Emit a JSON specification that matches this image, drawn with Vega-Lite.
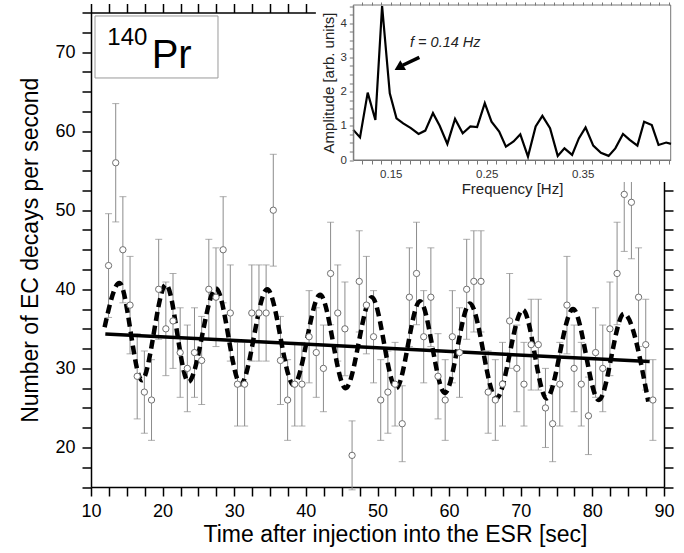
{
  "$schema": "https://vega.github.io/schema/vega-lite/v6.json",
  "width": 573,
  "height": 474.5,
  "autosize": "none",
  "padding": {"left": 91, "top": 12.5, "right": 20, "bottom": 66},
  "background": "white",
  "config": {"view": {"stroke": null}, "font": "Liberation Sans", "axis": {"grid": false}},
  "datasets": {
    "counts": [
      {"t": 12.45, "n": 43, "err": 6.56}, {"t": 13.45, "n": 56, "err": 7.48}, {"t": 14.45, "n": 45, "err": 6.71},
      {"t": 15.45, "n": 38, "err": 6.16}, {"t": 16.45, "n": 29, "err": 5.39}, {"t": 17.45, "n": 27, "err": 5.2},
      {"t": 18.45, "n": 26, "err": 5.1}, {"t": 19.45, "n": 40, "err": 6.32}, {"t": 20.45, "n": 35, "err": 5.92},
      {"t": 21.45, "n": 36, "err": 6.0}, {"t": 22.45, "n": 32, "err": 5.66}, {"t": 23.45, "n": 30, "err": 5.48},
      {"t": 24.45, "n": 32, "err": 5.66}, {"t": 25.45, "n": 31, "err": 5.57}, {"t": 26.45, "n": 40, "err": 6.32},
      {"t": 27.45, "n": 39, "err": 6.24}, {"t": 28.45, "n": 45, "err": 6.71}, {"t": 29.45, "n": 37, "err": 6.08},
      {"t": 30.45, "n": 28, "err": 5.29}, {"t": 31.45, "n": 28, "err": 5.29}, {"t": 32.45, "n": 37, "err": 6.08},
      {"t": 33.45, "n": 37, "err": 6.08}, {"t": 34.45, "n": 37, "err": 6.08}, {"t": 35.45, "n": 50, "err": 7.07},
      {"t": 36.45, "n": 31, "err": 5.57}, {"t": 37.45, "n": 26, "err": 5.1}, {"t": 38.45, "n": 28, "err": 5.29},
      {"t": 39.45, "n": 28, "err": 5.29}, {"t": 40.45, "n": 34, "err": 5.83}, {"t": 41.45, "n": 32, "err": 5.66},
      {"t": 42.45, "n": 30, "err": 5.48}, {"t": 43.45, "n": 42, "err": 6.48}, {"t": 44.45, "n": 37, "err": 6.08},
      {"t": 45.45, "n": 35, "err": 5.92}, {"t": 46.45, "n": 19, "err": 4.36}, {"t": 47.45, "n": 41, "err": 6.4},
      {"t": 48.45, "n": 38, "err": 6.16}, {"t": 49.45, "n": 34, "err": 5.83}, {"t": 50.45, "n": 26, "err": 5.1},
      {"t": 51.45, "n": 27, "err": 5.2}, {"t": 52.45, "n": 28, "err": 5.29}, {"t": 53.45, "n": 23, "err": 4.8},
      {"t": 54.45, "n": 39, "err": 6.24}, {"t": 55.45, "n": 42, "err": 6.48}, {"t": 56.45, "n": 34, "err": 5.83},
      {"t": 57.45, "n": 39, "err": 6.24}, {"t": 58.45, "n": 29, "err": 5.39}, {"t": 59.45, "n": 26, "err": 5.1},
      {"t": 60.45, "n": 34, "err": 5.83}, {"t": 61.45, "n": 32, "err": 5.66}, {"t": 62.45, "n": 40, "err": 6.32},
      {"t": 63.45, "n": 41, "err": 6.4}, {"t": 64.45, "n": 41, "err": 6.4}, {"t": 65.45, "n": 27, "err": 5.2},
      {"t": 66.45, "n": 26, "err": 5.1}, {"t": 67.45, "n": 28, "err": 5.29}, {"t": 68.45, "n": 36, "err": 6.0},
      {"t": 69.45, "n": 30, "err": 5.48}, {"t": 70.45, "n": 28, "err": 5.29}, {"t": 71.45, "n": 33, "err": 5.74},
      {"t": 72.45, "n": 33, "err": 5.74}, {"t": 73.45, "n": 25, "err": 5.0}, {"t": 74.45, "n": 23, "err": 4.8},
      {"t": 75.45, "n": 28, "err": 5.29}, {"t": 76.45, "n": 38, "err": 6.16}, {"t": 77.45, "n": 30, "err": 5.48},
      {"t": 78.45, "n": 28, "err": 5.29}, {"t": 79.45, "n": 24, "err": 4.9}, {"t": 80.45, "n": 32, "err": 5.66},
      {"t": 81.45, "n": 30, "err": 5.48}, {"t": 82.45, "n": 35, "err": 5.92}, {"t": 83.45, "n": 42, "err": 6.48},
      {"t": 84.45, "n": 52, "err": 7.21}, {"t": 85.45, "n": 51, "err": 7.14}, {"t": 86.45, "n": 39, "err": 6.24},
      {"t": 87.45, "n": 33, "err": 5.74}, {"t": 88.45, "n": 26, "err": 5.1}
    ],
    "fit": [{"t": 12, "v": 34.35}, {"t": 88, "v": 30.86}],
    "osc": [
      {"t": 11.9, "v": 35.2}, {"t": 13.96, "v": 40.8}, {"t": 17.1, "v": 28.5}, {"t": 20.47, "v": 40.6},
      {"t": 23.6, "v": 28.3}, {"t": 27.46, "v": 40.1}, {"t": 30.9, "v": 28.0}, {"t": 34.6, "v": 40.0},
      {"t": 38.3, "v": 27.9}, {"t": 41.99, "v": 39.3}, {"t": 45.55, "v": 27.5}, {"t": 49.2, "v": 39.0},
      {"t": 52.6, "v": 27.5}, {"t": 55.93, "v": 38.5}, {"t": 59.4, "v": 26.9}, {"t": 62.9, "v": 38.2},
      {"t": 66.6, "v": 26.2}, {"t": 70.3, "v": 37.4}, {"t": 73.6, "v": 26.2}, {"t": 77.3, "v": 37.5},
      {"t": 80.9, "v": 26.0}, {"t": 84.4, "v": 36.9}, {"t": 87.8, "v": 25.8}
    ],
    "spectrum": [
      {"f": 0.111, "a": 0.88}, {"f": 0.118, "a": 0.66}, {"f": 0.126, "a": 1.97}, {"f": 0.134, "a": 1.17},
      {"f": 0.141, "a": 4.5}, {"f": 0.149, "a": 1.95}, {"f": 0.156, "a": 1.22}, {"f": 0.163, "a": 1.07},
      {"f": 0.171, "a": 0.93}, {"f": 0.179, "a": 0.76}, {"f": 0.186, "a": 0.86}, {"f": 0.194, "a": 1.37},
      {"f": 0.201, "a": 1.0}, {"f": 0.209, "a": 0.47}, {"f": 0.217, "a": 1.2}, {"f": 0.225, "a": 0.78},
      {"f": 0.233, "a": 0.98}, {"f": 0.24, "a": 0.96}, {"f": 0.248, "a": 1.66}, {"f": 0.255, "a": 1.12},
      {"f": 0.263, "a": 0.83}, {"f": 0.27, "a": 0.39}, {"f": 0.278, "a": 0.54}, {"f": 0.285, "a": 0.75},
      {"f": 0.293, "a": 0.1}, {"f": 0.301, "a": 0.98}, {"f": 0.308, "a": 1.29}, {"f": 0.316, "a": 0.93},
      {"f": 0.324, "a": 0.12}, {"f": 0.331, "a": 0.34}, {"f": 0.339, "a": 0.15}, {"f": 0.346, "a": 0.63},
      {"f": 0.353, "a": 0.95}, {"f": 0.361, "a": 0.42}, {"f": 0.369, "a": 0.21}, {"f": 0.377, "a": 0.12},
      {"f": 0.384, "a": 0.34}, {"f": 0.392, "a": 0.76}, {"f": 0.399, "a": 0.59}, {"f": 0.407, "a": 0.42},
      {"f": 0.414, "a": 1.12}, {"f": 0.422, "a": 1.02}, {"f": 0.429, "a": 0.44}, {"f": 0.437, "a": 0.51},
      {"f": 0.442, "a": 0.47}
    ]
  },
  "resolve": {"scale": {"x": "independent", "y": "independent"}, "axis": {"x": "independent", "y": "independent"}},
  "layer": [
    {
      "resolve": {"axis": {"x": "independent", "y": "independent"}},
      "layer": [
        {
          "data": {"name": "counts"},
          "mark": {"type": "errorbar", "ticks": {"size": 7}, "color": "#8c8c8c", "thickness": 1},
          "encoding": {
            "x": {
              "field": "t", "type": "quantitative",
              "scale": {"domain": [10, 90], "nice": false, "zero": false},
              "axis": {
                "orient": "bottom",
                "values": [10,12.5,15,17.5,20,22.5,25,27.5,30,32.5,35,37.5,40,42.5,45,47.5,50,52.5,55,57.5,60,62.5,65,67.5,70,72.5,75,77.5,80,82.5,85,87.5,90],
                "labelExpr": "datum.value % 10 === 0 ? format(datum.value, 'd') : ''",
                "tickSize": 9,
                "encode": {"ticks": {"update": {"y2": {"signal": "datum.value % 10 === 0 ? 9 : 5"}}}},
                "tickWidth": 1.5, "tickColor": "black", "domainColor": "black", "domainWidth": 1.5,
                "labelFontSize": 18, "labelColor": "black", "labelPadding": 6,
                "labelOverlap": false, "labelFlush": false,
                "title": "Time after injection into the ESR [sec]", "titleFontSize": 23,
                "titleFontWeight": "normal", "titleColor": "black", "titlePadding": 3,
                "titleX": 304, "titleAlign": "center"
              }
            },
            "y": {
              "field": "n", "type": "quantitative",
              "scale": {"domain": [15, 75], "nice": false, "zero": false},
              "axis": {
                "orient": "left",
                "values": [15,17.5,20,22.5,25,27.5,30,32.5,35,37.5,40,42.5,45,47.5,50,52.5,55,57.5,60,62.5,65,67.5,70,72.5,75],
                "labelExpr": "datum.value % 10 === 0 ? format(datum.value, 'd') : ''",
                "tickSize": 9,
                "encode": {"ticks": {"update": {"x2": {"signal": "datum.value % 10 === 0 ? -9 : -5"}}}},
                "tickWidth": 1.5, "tickColor": "black", "domainColor": "black", "domainWidth": 1.5,
                "labelFontSize": 18, "labelColor": "black", "labelPadding": 7,
                "labelOverlap": false, "labelFlush": false,
                "title": "Number of EC decays per second", "titleFontSize": 23,
                "titleFontWeight": "normal", "titleColor": "black", "titlePadding": 12
              }
            },
            "yError": {"field": "err"}
          }
        },
        {
          "data": {"name": "fit"},
          "mark": {"type": "line", "color": "black", "strokeWidth": 3.5},
          "encoding": {
            "x": {
              "field": "t", "type": "quantitative",
              "axis": {
                "orient": "top",
                "values": [10,12.5,15,17.5,20,22.5,25,27.5,30,32.5,35,37.5,40,42.5,45,47.5,50,52.5,55,57.5,60,62.5,65,67.5,70,72.5,75,77.5,80,82.5,85,87.5,90],
                "labels": false, "title": null, "tickSize": 9,
                "encode": {"ticks": {"update": {"y2": {"signal": "datum.value % 10 === 0 ? 9 : 5"}}}},
                "tickWidth": 1.5, "tickColor": "black", "domainColor": "black", "domainWidth": 1.5
              }
            },
            "y": {
              "field": "v", "type": "quantitative",
              "axis": {
                "orient": "right",
                "values": [15,17.5,20,22.5,25,27.5,30,32.5,35,37.5,40,42.5,45,47.5,50,52.5,55,57.5,60,62.5,65,67.5,70,72.5,75],
                "labels": false, "title": null, "tickSize": 9,
                "encode": {"ticks": {"update": {"x2": {"signal": "datum.value % 10 === 0 ? -9 : -5"}}}},
                "tickWidth": 1.5, "tickColor": "black", "domainColor": "black", "domainWidth": 1.5
              }
            }
          }
        },
        {
          "data": {"name": "osc"},
          "mark": {"type": "line", "color": "black", "strokeWidth": 4.5, "strokeDash": [9, 5], "interpolate": "monotone"},
          "encoding": {
            "x": {"field": "t", "type": "quantitative", "axis": null},
            "y": {"field": "v", "type": "quantitative", "axis": null}
          }
        },
        {
          "data": {"name": "counts"},
          "mark": {"type": "point", "shape": "circle", "filled": true, "fill": "white", "stroke": "#6f6f6f", "strokeWidth": 1, "size": 40, "opacity": 1},
          "encoding": {
            "x": {"field": "t", "type": "quantitative", "axis": null},
            "y": {"field": "n", "type": "quantitative", "axis": null}
          }
        },
        {
          "data": {"values": [{"x": 10.56, "x2": 27.73, "y": 74.56, "y2": 66.72}]},
          "mark": {"type": "rect", "fill": "white", "stroke": "#9a9a9a", "strokeWidth": 1},
          "encoding": {
            "x": {"field": "x", "type": "quantitative", "axis": null},
            "x2": {"field": "x2"},
            "y": {"field": "y", "type": "quantitative", "axis": null},
            "y2": {"field": "y2"}
          }
        },
        {
          "data": {"values": [{"x": 12.28, "y": 70.89, "s": "140"}]},
          "mark": {"type": "text", "align": "left", "baseline": "alphabetic", "fontSize": 24, "color": "black", "font": "Liberation Sans"},
          "encoding": {
            "x": {"field": "x", "type": "quantitative", "axis": null},
            "y": {"field": "y", "type": "quantitative", "axis": null},
            "text": {"field": "s"}
          }
        },
        {
          "data": {"values": [{"x": 18.47, "y": 67.95, "s": "Pr"}]},
          "mark": {"type": "text", "align": "left", "baseline": "alphabetic", "fontSize": 40, "color": "black", "font": "Liberation Sans"},
          "encoding": {
            "x": {"field": "x", "type": "quantitative", "axis": null},
            "y": {"field": "y", "type": "quantitative", "axis": null},
            "text": {"field": "s"}
          }
        }
      ]
    },
    {
      "resolve": {"axis": {"x": "independent", "y": "independent"}},
      "layer": [
        {
          "data": {"values": [{"x": 0.072, "x2": 0.4555, "y": -0.643, "y2": 4.676}]},
          "mark": {"type": "rect", "fill": "white", "stroke": null},
          "encoding": {
            "x": {"field": "x", "type": "quantitative", "axis": null,
              "scale": {"domain": [0.111, 0.4417], "range": [262.3, 579.7], "nice": false, "zero": false}},
            "x2": {"field": "x2"},
            "y": {"field": "y", "type": "quantitative", "axis": null,
              "scale": {"domain": [0, 4.53], "range": [147.5, -7.5], "nice": false, "zero": false}},
            "y2": {"field": "y2"}
          }
        },
        {
          "data": {"values": [{"x": 0.111, "x2": 0.4417, "y": 0, "y2": 4.53}]},
          "mark": {"type": "rect", "fill": null, "fillOpacity": 0, "stroke": "#777777", "strokeWidth": 1},
          "encoding": {
            "x": {
              "field": "x", "type": "quantitative",
              "axis": {
                "orient": "bottom", "offset": -327, "zindex": 1,
                "values": [0.12,0.13,0.14,0.15,0.16,0.17,0.18,0.19,0.2,0.21,0.22,0.23,0.24,0.25,0.26,0.27,0.28,0.29,0.3,0.31,0.32,0.33,0.34,0.35,0.36,0.37,0.38,0.39,0.4,0.41,0.42,0.43,0.44],
                "labelExpr": "(datum.value === 0.15 || datum.value === 0.25 || datum.value === 0.35) ? format(datum.value, '.2f') : ''",
                "tickSize": 4,
                "encode": {"ticks": {"update": {"y2": {"signal": "indexof([0.15,0.2,0.25,0.3,0.35,0.4], datum.value) >= 0 ? 5 : 3"}}}},
                "tickWidth": 1, "tickColor": "#777777", "domainColor": "#777777", "domainWidth": 1,
                "labelFontSize": 11.5, "labelColor": "#333333", "labelPadding": 4,
                "labelOverlap": false, "labelFlush": false,
                "title": "Frequency [Hz]", "titleFontSize": 15, "titleFontWeight": "normal",
                "titleColor": "#222222", "titlePadding": 2
              }
            },
            "x2": {"field": "x2"},
            "y": {
              "field": "y", "type": "quantitative",
              "axis": {
                "orient": "left", "offset": -262.3, "zindex": 1,
                "values": [0,0.25,0.5,0.75,1,1.25,1.5,1.75,2,2.25,2.5,2.75,3,3.25,3.5,3.75,4,4.25,4.5],
                "labelExpr": "datum.value % 1 === 0 ? format(datum.value, 'd') : ''",
                "tickSize": 4,
                "encode": {"ticks": {"update": {"x2": {"signal": "datum.value % 1 === 0 ? -4 : -2"}}}},
                "tickWidth": 1, "tickColor": "#777777", "domainColor": "#777777", "domainWidth": 1,
                "labelFontSize": 11.5, "labelColor": "#333333", "labelPadding": 3,
                "labelOverlap": false, "labelFlush": false,
                "title": "Amplitude [arb. units]", "titleFontSize": 15, "titleFontWeight": "normal",
                "titleColor": "#222222", "titlePadding": 3
              }
            },
            "y2": {"field": "y2"}
          }
        },
        {
          "data": {"name": "spectrum"},
          "mark": {"type": "line", "color": "black", "strokeWidth": 2.2, "strokeJoin": "miter"},
          "encoding": {
            "x": {
              "field": "f", "type": "quantitative",
              "axis": {
                "orient": "top", "offset": 7.5, "zindex": 1,
                "values": [0.12,0.13,0.14,0.15,0.16,0.17,0.18,0.19,0.2,0.21,0.22,0.23,0.24,0.25,0.26,0.27,0.28,0.29,0.3,0.31,0.32,0.33,0.34,0.35,0.36,0.37,0.38,0.39,0.4,0.41,0.42,0.43,0.44],
                "labels": false, "title": null, "domain": false, "tickSize": 3,
                "encode": {"ticks": {"update": {"y2": {"value": 3}}}},
                "tickWidth": 1, "tickColor": "#777777"
              }
            },
            "y": {"field": "a", "type": "quantitative", "axis": null}
          }
        },
        {
          "data": {"values": [{"f": 0.1701, "a": 3.31, "s": "f = 0.14 Hz"}]},
          "mark": {"type": "text", "align": "left", "baseline": "alphabetic", "fontSize": 14.5, "fontStyle": "italic", "color": "#222222"},
          "encoding": {
            "x": {"field": "f", "type": "quantitative", "axis": null},
            "y": {"field": "a", "type": "quantitative", "axis": null},
            "text": {"field": "s"}
          }
        },
        {
          "data": {"values": [{"f": 0.1798, "a": 3.0, "f2": 0.1625, "a2": 2.77}]},
          "mark": {"type": "rule", "color": "black", "strokeWidth": 3.5},
          "encoding": {
            "x": {"field": "f", "type": "quantitative", "axis": null},
            "y": {"field": "a", "type": "quantitative", "axis": null},
            "x2": {"field": "f2"},
            "y2": {"field": "a2"}
          }
        },
        {
          "data": {"values": [{"f": 0.1585, "a": 2.7}]},
          "mark": {"type": "point", "shape": "triangle-up", "filled": true, "color": "black", "size": 130, "angle": 240, "opacity": 1},
          "encoding": {
            "x": {"field": "f", "type": "quantitative", "axis": null},
            "y": {"field": "a", "type": "quantitative", "axis": null}
          }
        }
      ]
    }
  ]
}
